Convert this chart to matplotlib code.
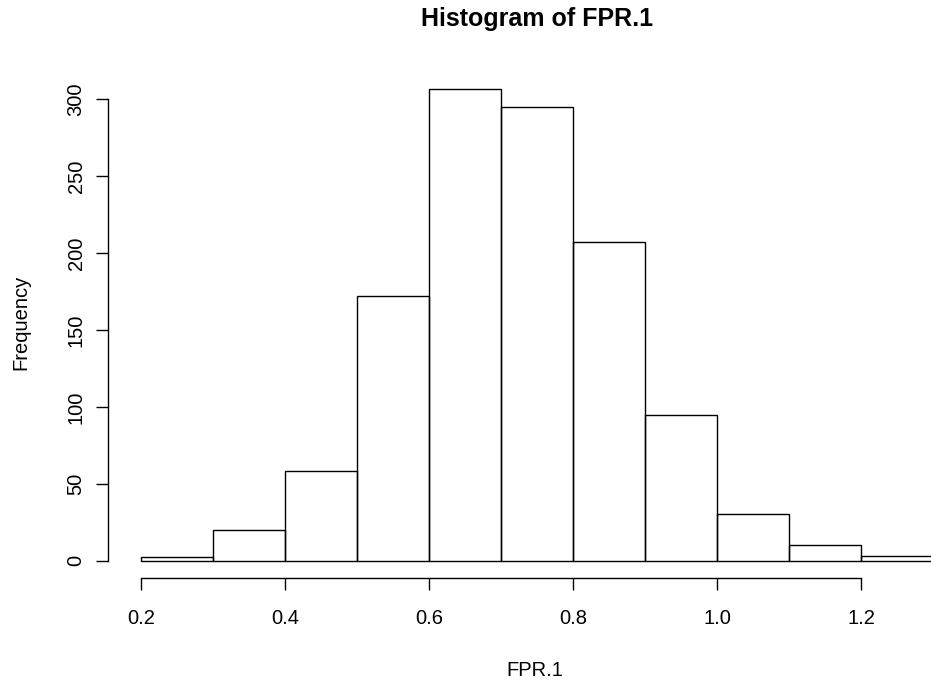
import numpy as np
import matplotlib.pyplot as plt

plt.rcParams['font.family'] = ['Liberation Sans', 'DejaVu Sans']

# bin edges and counts of the histogram
bin_edges = [0.2, 0.3, 0.4, 0.5, 0.6, 0.7, 0.8, 0.9, 1.0, 1.1, 1.2, 1.3]
counts = [2, 20, 58, 172, 307, 295, 207, 95, 30, 10, 3]
x_ticks = [0.2, 0.4, 0.6, 0.8, 1.0, 1.2]
y_ticks = [0, 50, 100, 150, 200, 250, 300]

W, H = 931, 683
fig = plt.figure(figsize=(W / 100, H / 100), dpi=100)

# axes placed in pixel coordinates
left_px, right_px = 108, 931
bottom_px, top_px = 578, 80
ax = fig.add_axes([left_px / W, 1 - bottom_px / H,
                   (right_px - left_px) / W, (bottom_px - top_px) / H])

px_per_x = 720 / 1.0   # 0.2 -> 141 px, 1.2 -> 861 px
px_per_y = 461 / 300   # 0 -> 560.5 px, 300 -> 99.5 px
ax.set_xlim(0.2 - (141 - left_px) / px_per_x, 0.2 + (right_px - 141) / px_per_x)
ax.set_ylim(-(bottom_px - 560.5) / px_per_y, (560.5 - top_px) / px_per_y)

widths = np.diff(bin_edges)
ax.bar(bin_edges[:-1], counts, width=widths, align='edge',
       fill=False, edgecolor='black', linewidth=1.0)

for s in ['top', 'right']:
    ax.spines[s].set_visible(False)
ax.spines['left'].set_bounds(0, 300)
ax.spines['bottom'].set_bounds(0.2, 1.2)
ax.spines['left'].set_linewidth(1.0)
ax.spines['bottom'].set_linewidth(1.0)

ax.set_xticks(x_ticks)
ax.set_xticklabels([f"{t:.1f}" for t in x_ticks])
ax.set_yticks(y_ticks)
ax.set_yticklabels([str(t) for t in y_ticks], rotation=90, va='center')
ax.tick_params(axis='both', length=8.6, width=1.0, labelsize=14.5)
ax.tick_params(axis='x', pad=14)
ax.tick_params(axis='y', pad=7.5)

fig.text(537 / W, 1 - 19 / H, "Histogram of FPR.1", ha='center', va='center',
         fontsize=18, fontweight='bold')
fig.text(535 / W, 1 - 670 / H, "FPR.1", ha='center', va='center', fontsize=14.5)
fig.text(21 / W, 1 - 322 / H, "Frequency", ha='center', va='center',
         fontsize=14.5, rotation=90)

fig.savefig("out.png", dpi=100)
